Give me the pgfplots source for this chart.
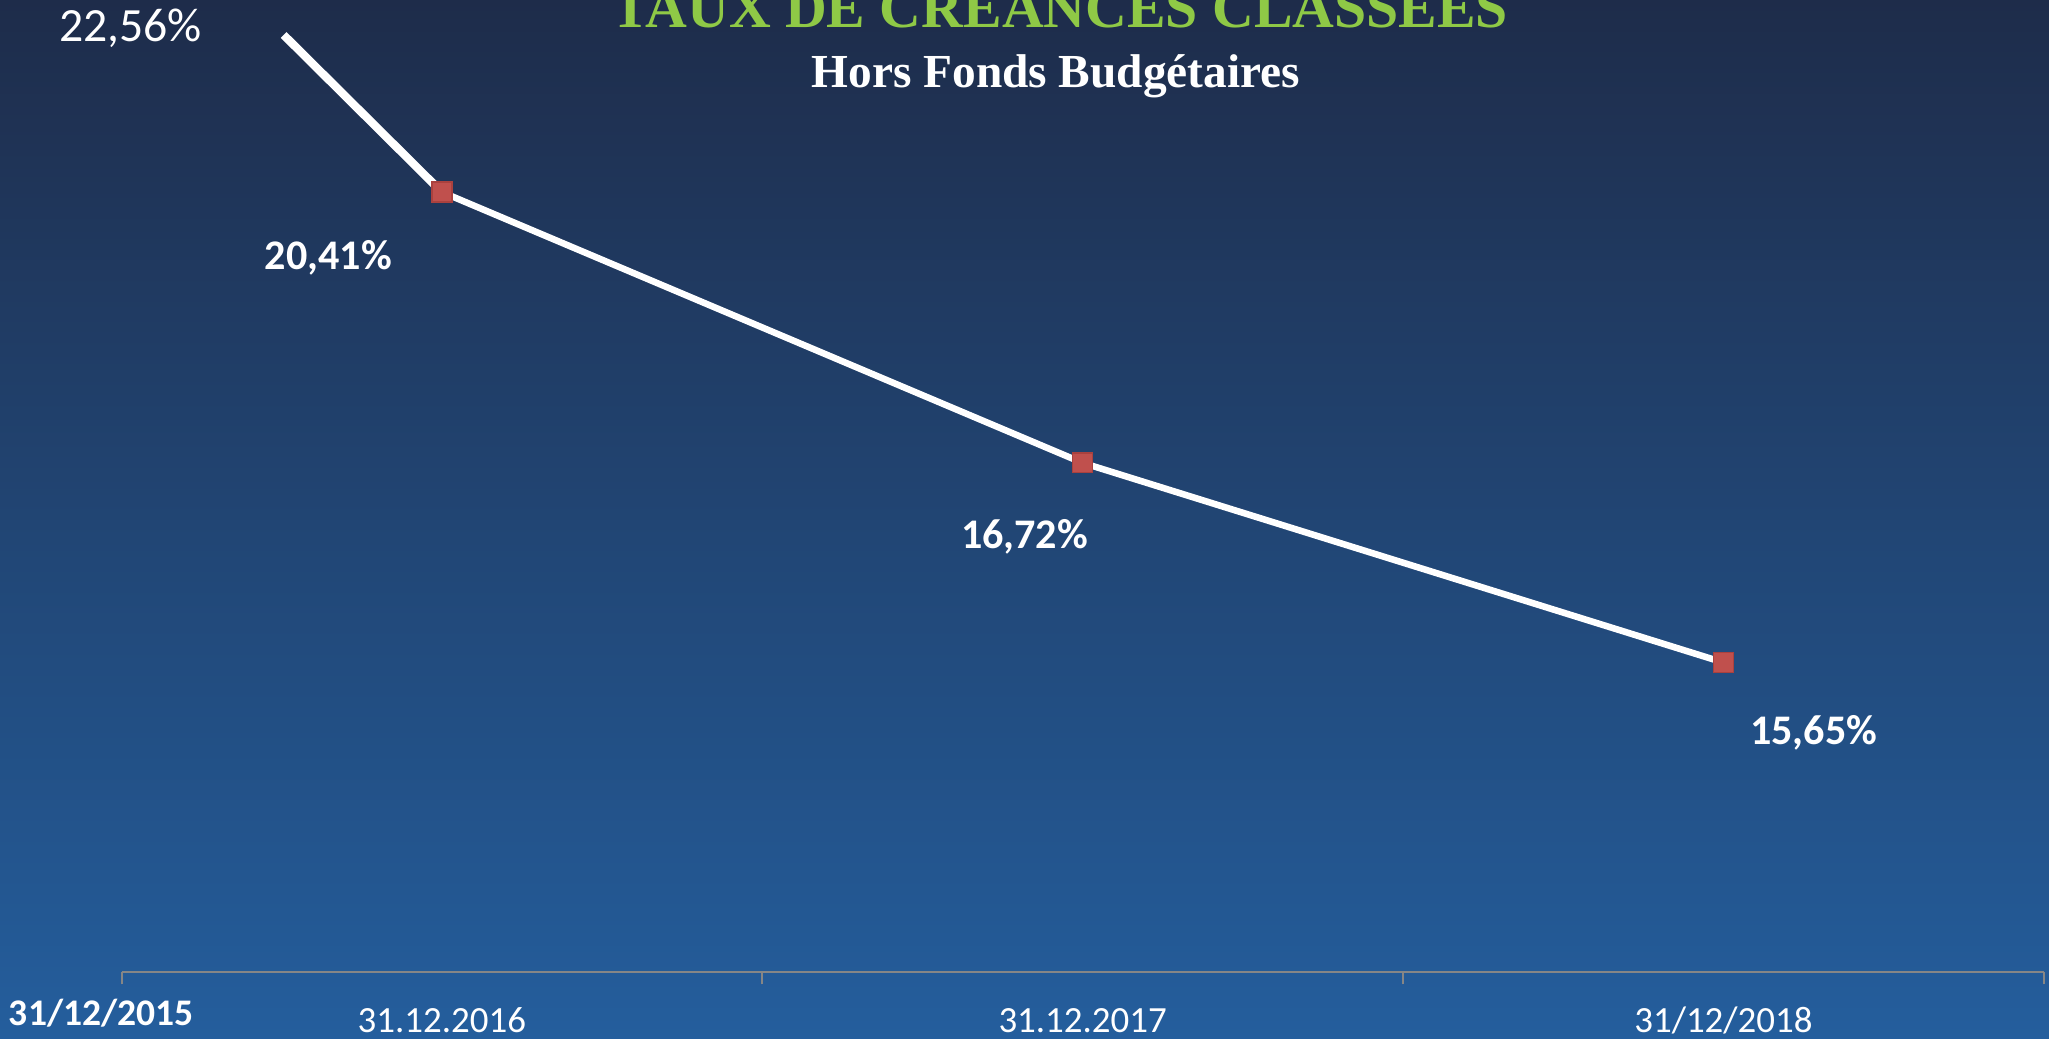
\documentclass[border=0pt]{standalone}
\usepackage{pgfplots}
\pgfplotsset{compat=1.18}
\usepackage{pgfplotstable}
\usepackage{fontspec}
\setmainfont{Carlito}
\newfontfamily\titlefont{Liberation Serif}
\definecolor{bgtop}{RGB}{30,44,74}
\definecolor{bgbot}{RGB}{36,94,157}
\definecolor{titlegreen}{RGB}{143,201,70}
\definecolor{axisgray}{RGB}{134,134,134}
\definecolor{markred}{RGB}{192,80,77}
\definecolor{markredd}{RGB}{170,65,62}

\pgfplotstableread{
x y label dx dy
1 20.41 20,41\% -34.8 -23.8
2 17.67 16,72\% -17.8 -26.2
3 15.65 15,65\% 27.6 -25.2
}\mainseries

\pgfplotstableread{
x y
0.753 22.00
1 20.41
}\firstseg

\begin{document}
\begin{tikzpicture}[x=0.4pt,y=0.4pt]
\useasboundingbox (0,0) rectangle (1568,795);
\clip (0,0) rectangle (1568,795);
\shade[top color=bgtop, bottom color=bgbot] (0,0) rectangle (1568,795);
\begin{axis}[
  at={(37.2pt,20.4pt)}, anchor=south west,
  scale only axis, width=588.4pt, height=287.6pt,
  xmin=0.5, xmax=3.5, ymin=12.516, ymax=22.023,
  axis x line*=bottom, hide y axis,
  x axis line style={draw=axisgray, line width=0.6pt, -},
  xtick={0.5,1.5,2.5,3.5},
  x tick label as interval,
  xticklabels={31.12.2016,31.12.2017,31/12/2018},
  xtick align=outside,
  major tick length=3.7pt,
  xtick style={draw=axisgray, line width=0.6pt},
  xticklabel style={anchor=base, yshift=-14.8pt, text=white, font=\fontsize{11.3pt}{13pt}\selectfont},
]
\addplot[white, line width=2.5pt, no markers] table[x=x,y=y] {\firstseg};
\addplot[white, line width=2.0pt, mark=square*,
  mark options={fill=markred, draw=markredd, line width=0.4pt, solid},
  mark size=3.05pt,
  nodes near coords, point meta=explicit symbolic,
  visualization depends on={\thisrow{dx} \as \dx},
  visualization depends on={\thisrow{dy} \as \dy},
  every node near coord/.append style={anchor=base, xshift=\dx, yshift=\dy,
     font=\bfseries\fontsize{12.9pt}{15pt}\selectfont, text=white}]
  table[x=x,y=y,meta=label] {\mainseries};
\end{axis}
\node[anchor=base, text=white, font=\fontsize{14.6pt}{17pt}\selectfont] at (100,763) {22,56\%};
\node[anchor=base, text=white, font=\bfseries\fontsize{11.5pt}{13pt}\selectfont] at (77.5,10) {31/12/2015};
\node[anchor=base, text=titlegreen, font=\titlefont\bfseries\fontsize{17.7pt}{20pt}\selectfont] at (811,774) {TAUX DE CRÉANCES CLASSÉES};
\node[anchor=base, text=white, font=\titlefont\bfseries\fontsize{14.5pt}{17pt}\selectfont] at (808,728.4) {Hors Fonds Budgétaires};
\end{tikzpicture}
\end{document}
